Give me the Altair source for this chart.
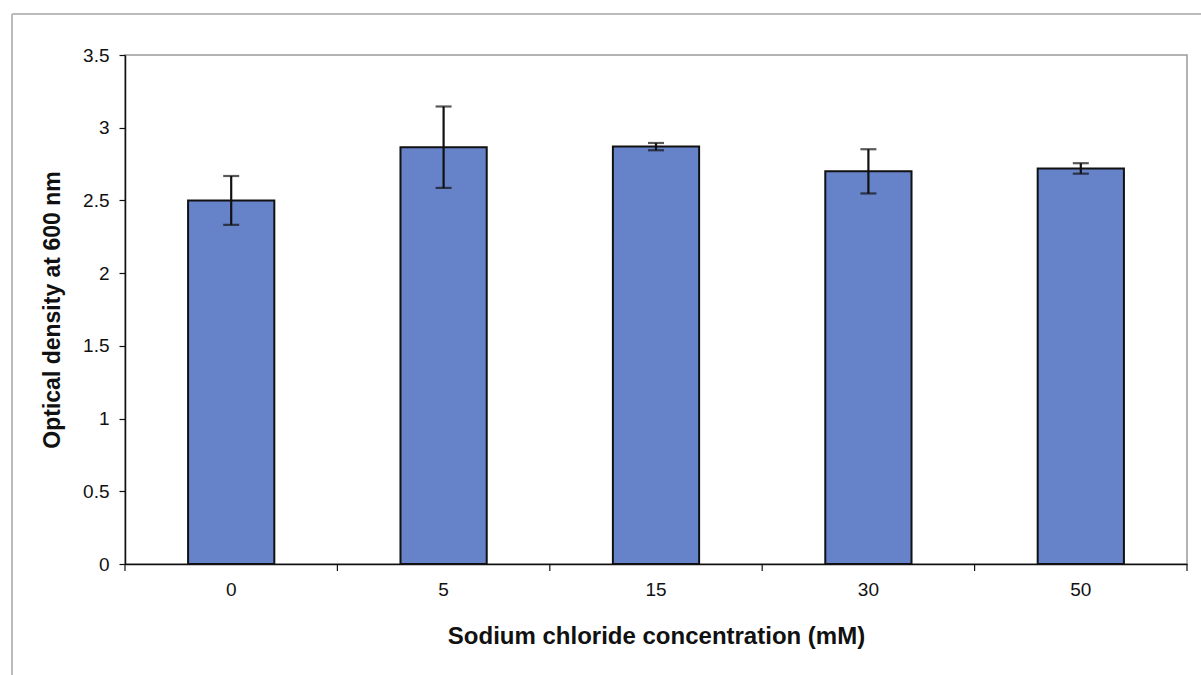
import altair as alt
import pandas as pd

# NaCl concentrations (mM), mean OD600 and standard deviation
concentration = ["0", "5", "15", "30", "50"]
od600_mean = [2.50, 2.866, 2.87, 2.70, 2.72]
od600_sd = [0.168, 0.28, 0.025, 0.152, 0.036]

df = pd.DataFrame({"conc": concentration, "od": od600_mean, "sd": od600_sd})
df["lo"] = df["od"] - df["sd"]
df["hi"] = df["od"] + df["sd"]

FONT = "Liberation Sans"
W, H = 1062, 509
P_INNER, P_OUTER = 0.594, 0.297
STEP = W / len(concentration)
BAND = STEP * (1 - P_INNER)
GAP_HALF = STEP * P_INNER / 2

x_scale = alt.Scale(paddingInner=P_INNER, paddingOuter=P_OUTER)
x_enc = alt.X(
    "conc:N",
    sort=concentration,
    scale=x_scale,
    axis=alt.Axis(
        title="Sodium chloride concentration (mM)",
        labelAngle=0,
        ticks=False,
        labelPadding=16,
        labelFontSize=19,
        titleFontSize=24,
        titleFontWeight="bold",
        titleBaseline="middle",
        titleY=72,
    ),
)
y_scale = alt.Scale(domain=[0, 3.5], nice=False)

base = alt.Chart(df)

bars = base.mark_bar(color="#6682C9", stroke="#111111", strokeWidth=2).encode(
    x=x_enc,
    y=alt.Y(
        "od:Q",
        scale=y_scale,
        axis=alt.Axis(
            title="Optical density at 600 nm",
            values=[0, 0.5, 1, 1.5, 2, 2.5, 3, 3.5],
            format=".1~f",
            grid=False,
            tickSize=6,
            labelPadding=10,
            labelFontSize=19,
            titleFontSize=23,
            titleFontWeight="bold",
            titleBaseline="middle",
            titleX=-73,
            titleY=H / 2,
        ),
    ),
)

whisker = base.mark_rule(color="#111111", strokeWidth=2.2).encode(
    x=alt.X("conc:N", sort=concentration),
    y=alt.Y("lo:Q", scale=y_scale),
    y2="hi:Q",
)
cap_lo = base.mark_tick(color="#111111", thickness=2.2, size=16).encode(
    x=alt.X("conc:N", sort=concentration), y=alt.Y("lo:Q", scale=y_scale)
)
cap_hi = base.mark_tick(color="#111111", thickness=2.2, size=16).encode(
    x=alt.X("conc:N", sort=concentration), y=alt.Y("hi:Q", scale=y_scale)
)

# x-axis ticks sit between categories rather than under the bars
# (with xOffset the rule is anchored at the start of each band)
ticks_right = base.mark_rule(color="#111111", strokeWidth=1.2).encode(
    x=alt.X("conc:N", sort=concentration),
    xOffset=alt.value(BAND + GAP_HALF),
    y=alt.value(H),
    y2=alt.value(H + 7),
)
ticks_left = (
    base.transform_filter(alt.datum.conc == concentration[0])
    .mark_rule(color="#111111", strokeWidth=1.2)
    .encode(
        x=alt.X("conc:N", sort=concentration),
        xOffset=alt.value(-GAP_HALF),
        y=alt.value(H),
        y2=alt.value(H + 7),
    )
)

# light outer frame around the whole figure
frame_left = base.mark_rule(color="#BBBBBB", strokeWidth=1.5).encode(
    x=alt.value(-113), y=alt.value(-41), y2=alt.value(H + 120)
)
frame_top = base.mark_rule(color="#BBBBBB", strokeWidth=1.5).encode(
    x=alt.value(-113), x2=alt.value(W + 20), y=alt.value(-41)
)

chart = (
    alt.layer(
        frame_left, frame_top, bars, whisker, cap_lo, cap_hi, ticks_right, ticks_left
    )
    .properties(
        width=W,
        height=H,
        autosize=alt.AutoSizeParams(type="none"),
        padding={"left": 125, "top": 55, "right": 14, "bottom": 111},
        background="white",
    )
    .configure_view(stroke="#9A9A9A", strokeWidth=1.5)
    .configure_axis(
        domainColor="#111111",
        domainWidth=1.5,
        tickColor="#111111",
        tickWidth=1.2,
        labelColor="#111111",
        titleColor="#111111",
        labelFont=FONT,
        titleFont=FONT,
    )
)

chart.save("out.html", embed_options={"renderer": "svg", "actions": False})
